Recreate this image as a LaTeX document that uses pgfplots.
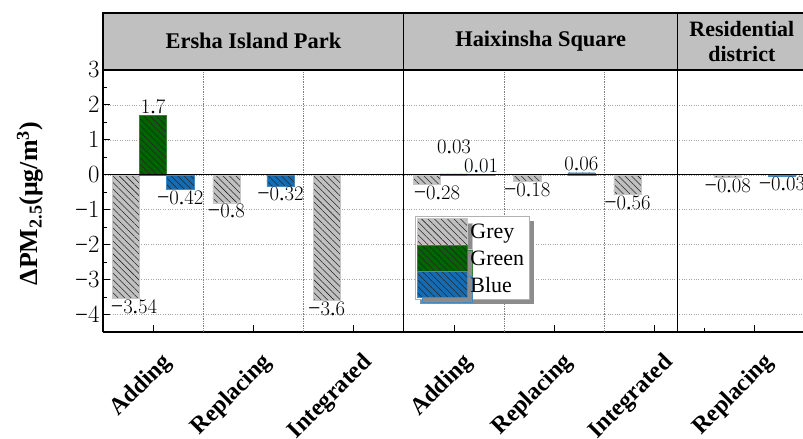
\documentclass[border=0pt]{standalone}
\usepackage{fontspec}
\setmainfont{Liberation Serif}
\usepackage{pgfplots}
\pgfplotsset{compat=1.18}
\usepackage{pgfplotstable}
\usetikzlibrary{patterns.meta,shadows}

% numbers in math mode (ticks, value labels) use the text serif, with a true minus
\DeclareSymbolFont{lsnum}{TU}{\rmdefault}{m}{n}
\Umathcode`0=0 \symlsnum "30
\Umathcode`1=0 \symlsnum "31
\Umathcode`2=0 \symlsnum "32
\Umathcode`3=0 \symlsnum "33
\Umathcode`4=0 \symlsnum "34
\Umathcode`5=0 \symlsnum "35
\Umathcode`6=0 \symlsnum "36
\Umathcode`7=0 \symlsnum "37
\Umathcode`8=0 \symlsnum "38
\Umathcode`9=0 \symlsnum "39
\Umathcode`.=0 \symlsnum "2E
\Umathcode`-=2 \symlsnum "2212

\definecolor{headgray}{RGB}{192,192,192}
\definecolor{bargrey}{RGB}{192,192,192}
\definecolor{bargreen}{RGB}{0,100,0}
\definecolor{barblue}{RGB}{22,108,178}

% x = category centre; dx, dy = label offsets in pt
\pgfplotstableread{
x    y     dx dy
0.5  -3.54  8  0
1.5  -0.8   0  0
2.5  -3.6   0  0
3.5  -0.28 10  0
4.5  -0.18  0  0
5.5  -0.56  0  0
6.5  -0.08  0  0
}\greydata
\pgfplotstableread{
x    y     dx dy
0.5  1.7    0  0
3.5  0.03   0 18
}\greendata
\pgfplotstableread{
x    y     dx dy
0.5  -0.42  0  0
1.5  -0.32  0  0
3.5  0.01   0  0
4.5  0.06   0  0
6.5  -0.03  0  0
}\bluedata

\tikzset{hatch/.style={postaction={pattern={Lines[angle=-45,distance=4.6pt,line width=0.55pt]},pattern color=black!85}}}

\begin{document}
\begin{tikzpicture}
\useasboundingbox (0,0) rectangle (803bp,439bp);
\begin{axis}[
  at={(103bp,107bp)}, anchor=south west,
  scale only axis, width=700bp, height=262bp,
  xmin=0, xmax=6.98, ymin=-4.5, ymax=3,
  axis x line*=bottom, axis y line*=left,
  axis line style={line width=1.2pt},
  clip=false,
  ybar, bar width=0.27,
  xtick={0.5,1.5,...,6.5},
  xticklabels={Adding,Replacing,Integrated,Adding,Replacing,Integrated,Replacing},
  minor xtick={6},
  ytick={-4,-3,...,3},
  minor ytick={-4.5,-3.5,...,2.5},
  tick align=inside, major tick length=7bp, minor tick length=4bp,
  every tick/.style={line width=1pt, black},
  ymajorgrids, grid style={dotted, gray!70, line width=0.6pt},
  yticklabel style={font=\fontsize{23}{23}\selectfont},
  xticklabel style={font=\bfseries\fontsize{24}{24}\selectfont, inner sep=0pt,
    xshift=15bp, yshift=-27bp, rotate=45, anchor=east},
  ylabel={ΔPM\textsubscript{2.5}(μg/m\textsuperscript{3})},
  every axis y label/.style={at={(rel axis cs:-0.104,0.49)}, rotate=90, anchor=center,
    font=\bfseries\fontsize{26}{26}\selectfont},
  nodes near coords={\pgfmathprintnumber[fixed,precision=2]{\pgfplotspointmeta}},
  visualization depends on={\thisrow{dx}\as\dx},
  visualization depends on={\thisrow{dy}\as\dy},
  every node near coord/.append style={font=\fontsize{22}{22}\selectfont, inner sep=1.5pt,
    xshift=\dx pt, yshift=\dy pt, black},
  legend style={at={(axis cs:3.11,-1.18)}, anchor=north west, draw=gray!60, fill=white,
    font=\fontsize{22}{26}\selectfont, row sep=0pt, inner sep=2pt,
    nodes={inner sep=1pt, inner xsep=3pt},
    drop shadow={shadow xshift=5bp, shadow yshift=-5bp, fill=gray!90, opacity=1}},
  legend cell align=left,
  legend image code/.code={\draw[#1] (0bp,-12bp) rectangle (50bp,14bp);},
]
\addplot[fill=bargrey, draw=bargrey!90, bar shift=-0.27, hatch] table[x=x,y=y] {\greydata};
\addplot[fill=bargreen, draw=bargreen!80!white, bar shift=0, hatch] table[x=x,y=y] {\greendata};
\addplot[fill=barblue, draw=barblue!80!white, bar shift=0.27, hatch] table[x=x,y=y] {\bluedata};
\legend{Grey,Green,Blue}

% category separators inside each site
\draw[densely dotted, gray, line width=0.7pt] (axis cs:1,-4.5) -- (axis cs:1,3);
\draw[densely dotted, gray, line width=0.7pt] (axis cs:2,-4.5) -- (axis cs:2,3);
\draw[densely dotted, gray, line width=0.7pt] (axis cs:4,-4.5) -- (axis cs:4,3);
\draw[densely dotted, gray, line width=0.7pt] (axis cs:5,-4.5) -- (axis cs:5,3);
% zero line
\draw[line width=1pt] (axis cs:0,0) -- (axis cs:6.98,0);
% site separators and header strip
\draw[line width=1.2pt] (axis cs:3,-4.5) -- (axis cs:3,3);
\draw[line width=1.2pt] (axis cs:5.73,-4.5) -- (axis cs:5.73,3);
\draw[fill=headgray, line width=1.2pt] (axis cs:0,3) rectangle (axis cs:3,4.632);
\draw[fill=headgray, line width=1.2pt] (axis cs:3,3) rectangle (axis cs:5.73,4.632);
\draw[fill=headgray, line width=1.2pt] (axis cs:5.73,3) rectangle (axis cs:7.3,4.632);
\node[font=\bfseries\fontsize{22.5}{24}\selectfont] at (axis cs:1.5,3.84) {Ersha Island Park};
\node[font=\bfseries\fontsize{22.5}{24}\selectfont] at (axis cs:4.365,3.84) {Haixinsha Square};
\node[font=\bfseries\fontsize{22}{25}\selectfont, align=center] at (axis cs:6.37,3.816) {Residential\\district};
\end{axis}
\end{tikzpicture}
\end{document}
